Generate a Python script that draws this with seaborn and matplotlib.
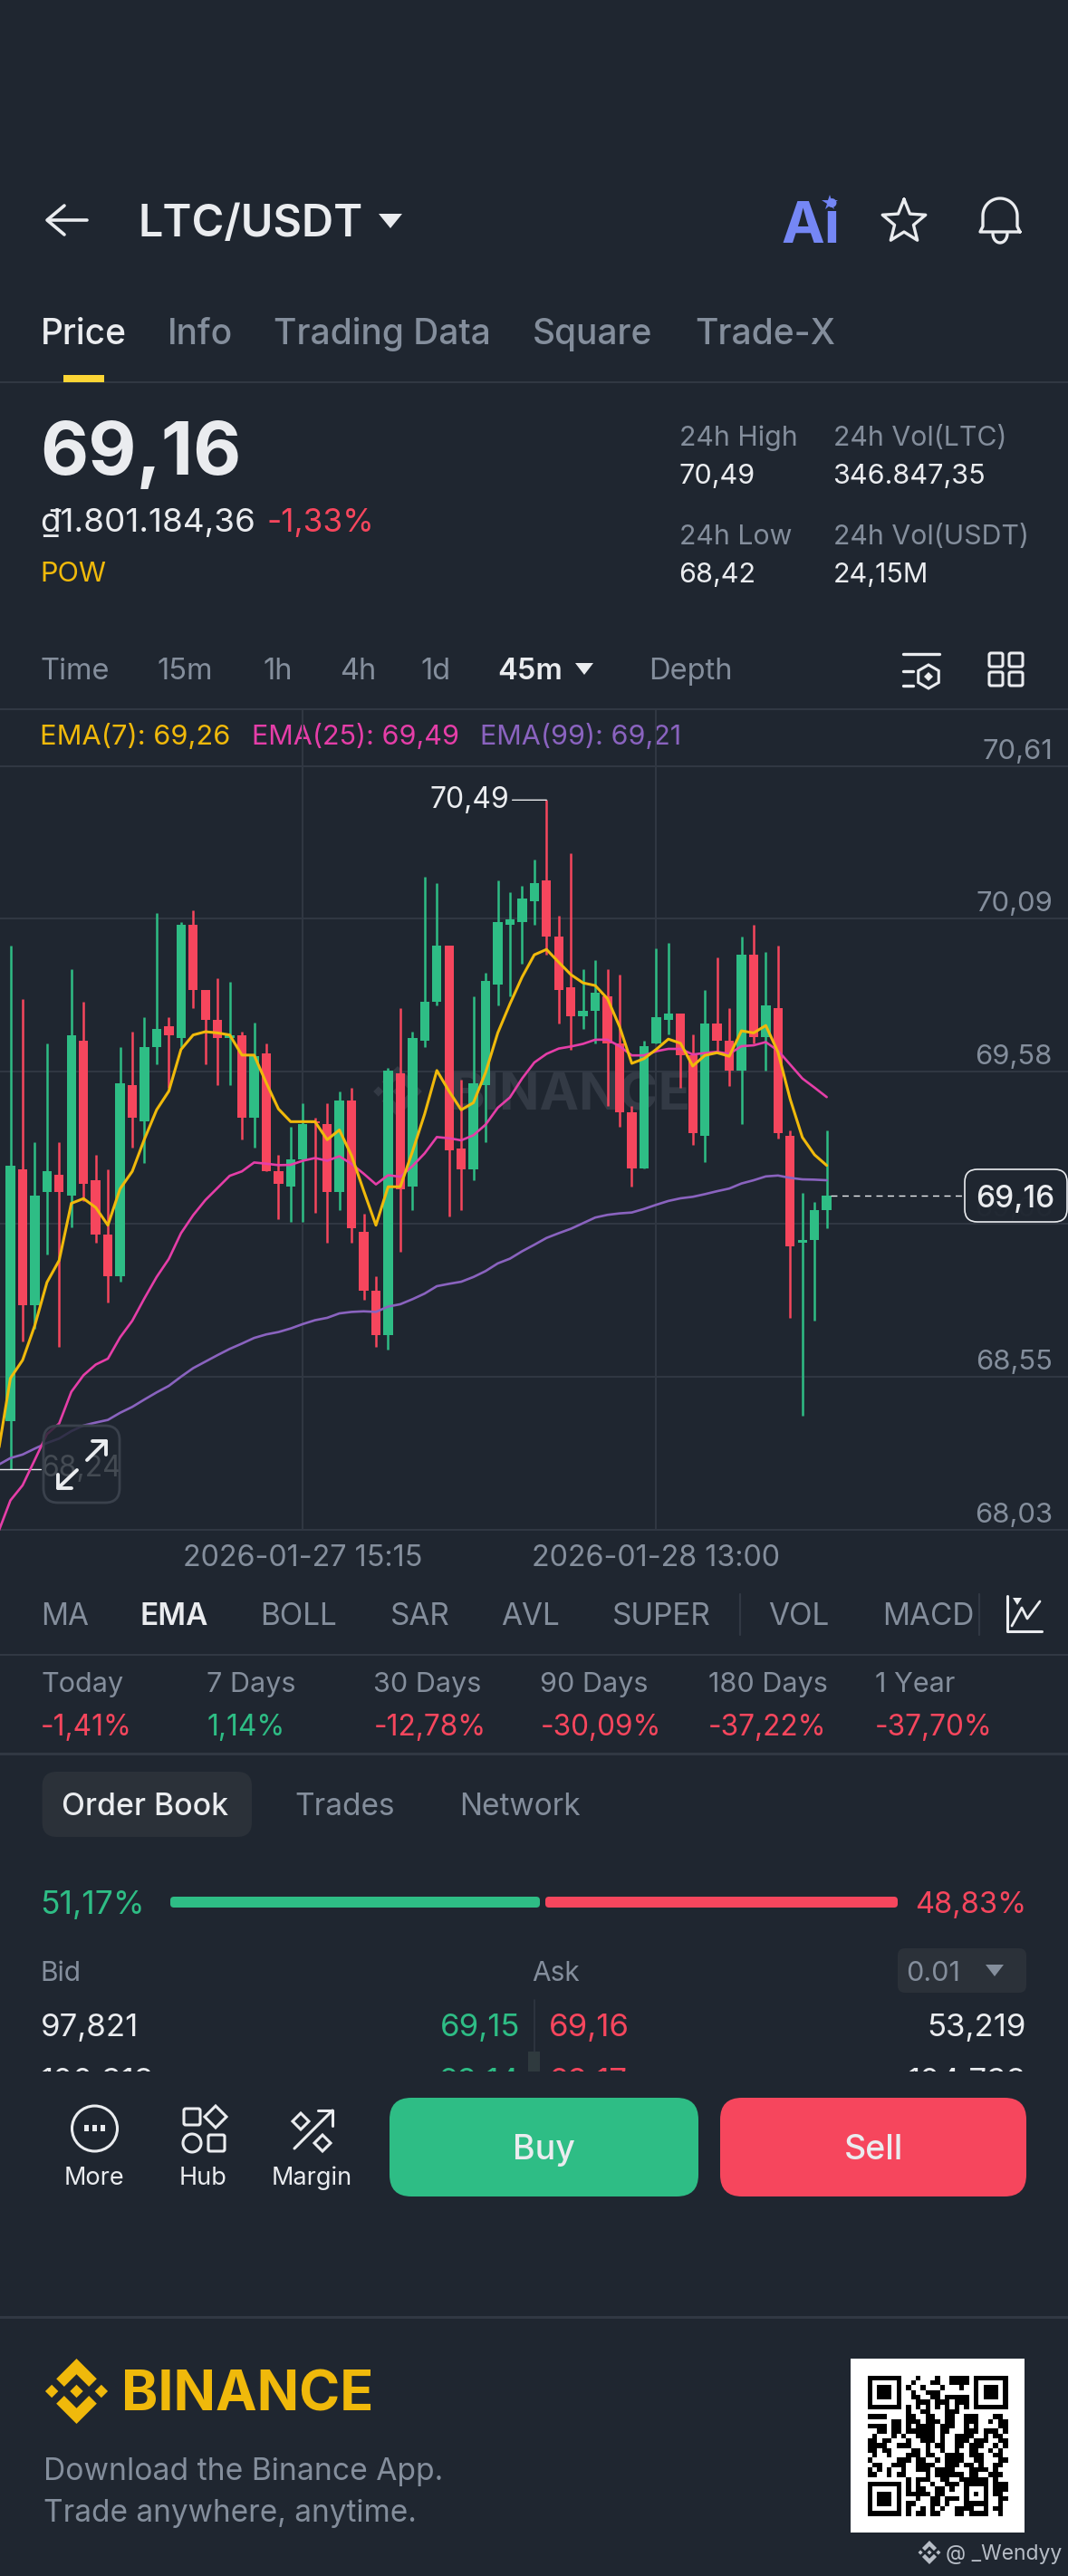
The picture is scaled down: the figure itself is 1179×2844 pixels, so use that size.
import matplotlib
matplotlib.use("Agg")
import matplotlib.pyplot as plt
import matplotlib.patches as mp
import numpy as np
import pandas as pd
import seaborn as sns

W, H = 1179, 2844
BG = "#1f2630"
GRID = "#313843"
GREEN = "#2ebd85"
RED = "#f6465d"
GRAY = "#848e9c"
WHITE = "#eaecef"
YELLOW = "#f0b90b"
PINK = "#e53ea8"
PURPLE = "#8a63bf"

# candles
opens = [68.395, 69.248, 68.787, 69.169, 69.228, 69.158, 69.681, 69.209, 69.027, 68.887,
         69.531, 69.410, 69.661, 69.730, 69.691, 70.073, 69.853, 69.751, 69.691, 69.701,
         69.420, 69.640, 69.240, 69.189, 69.279, 69.410, 69.400, 69.169, 69.480, 69.037,
         68.836, 68.686, 69.570, 69.189, 69.681, 69.812, 70.003, 69.318, 69.248, 69.531,
         69.872, 70.073, 70.083, 70.153, 70.224, 70.033, 69.863, 69.763, 69.782, 69.832,
         69.671, 69.440, 69.249, 69.671, 69.752, 69.772, 69.632, 69.360, 69.741, 69.682,
         69.580, 69.972, 69.693, 69.791, 69.360, 69.000, 69.007, 69.109]
closes = [69.258, 68.787, 69.158, 69.240, 69.169, 69.701, 69.198, 69.027, 68.887, 69.539,
          69.420, 69.660, 69.720, 69.701, 70.073, 69.853, 69.751, 69.691, 69.701, 69.420,
          69.630, 69.240, 69.199, 69.279, 69.400, 69.404, 69.169, 69.480, 69.049, 68.836,
          68.686, 69.581, 69.181, 69.691, 69.812, 70.003, 69.310, 69.248, 69.539, 69.883,
          70.083, 70.093, 70.163, 70.214, 70.035, 69.854, 69.763, 69.782, 69.843, 69.671,
          69.440, 69.249, 69.662, 69.762, 69.772, 69.632, 69.370, 69.741, 69.682, 69.580,
          69.972, 69.693, 69.802, 69.370, 68.988, 69.007, 69.109, 69.159]
highs = [70.003, 69.823, 69.338, 69.671, 69.338, 69.923, 69.812, 69.297, 69.248, 69.660,
         69.711, 69.761, 70.112, 69.761, 70.083, 70.122, 69.853, 69.892, 69.882, 69.711,
         69.742, 69.671, 69.297, 69.390, 69.470, 69.420, 69.470, 69.510, 69.521, 69.098,
         68.887, 69.591, 69.792, 69.711, 70.235, 70.214, 70.003, 69.550, 69.831, 69.912,
         70.224, 70.184, 70.204, 70.294, 70.495, 70.104, 70.314, 69.924, 69.954, 69.924,
         69.904, 69.460, 69.682, 69.994, 70.013, 69.772, 69.702, 69.854, 69.963, 69.793,
         70.033, 70.074, 69.983, 70.004, 69.379, 69.168, 69.138, 69.380]
lows = [68.235, 68.665, 68.707, 68.959, 68.647, 69.050, 69.139, 68.998, 68.797, 68.867,
        69.320, 69.269, 69.602, 69.521, 69.661, 69.792, 69.602, 69.531, 69.531, 69.349,
        69.320, 69.240, 69.078, 69.068, 69.068, 69.099, 68.998, 69.109, 68.998, 68.807,
        68.647, 68.637, 68.968, 69.109, 69.661, 69.802, 69.089, 69.109, 69.209, 69.339,
        69.802, 69.831, 69.942, 70.073, 69.972, 69.741, 69.652, 69.722, 69.671, 69.460,
        69.390, 69.188, 69.249, 69.671, 69.702, 69.521, 69.331, 69.270, 69.643, 69.530,
        69.401, 69.671, 69.580, 69.351, 68.746, 68.415, 68.737, 69.048]

# one candle more on the left is off screen, the lines still come in from it
ema7 = [68.29, 68.541, 68.602, 68.719, 68.865, 68.939, 69.132, 69.148, 69.118, 69.058, 69.181,
        69.240, 69.349, 69.448, 69.511, 69.652, 69.701, 69.712, 69.708, 69.701, 69.633,
        69.633, 69.539, 69.451, 69.408, 69.408, 69.408, 69.347, 69.380, 69.293, 69.174,
        69.058, 69.188, 69.188, 69.307, 69.434, 69.581, 69.511, 69.448, 69.472, 69.574,
        69.708, 69.806, 69.897, 69.972, 69.990, 69.947, 69.905, 69.877, 69.868, 69.824,
        69.729, 69.605, 69.621, 69.652, 69.687, 69.673, 69.596, 69.632, 69.641, 69.629,
        69.715, 69.708, 69.733, 69.643, 69.484, 69.355, 69.296, 69.260]
ema25 = [68.02, 68.128, 68.179, 68.265, 68.352, 68.388, 68.495, 68.551, 68.587, 68.607, 68.679,
         68.735, 68.811, 68.883, 68.944, 69.031, 69.092, 69.143, 69.184, 69.225, 69.240,
         69.270, 69.266, 69.261, 69.262, 69.276, 69.285, 69.276, 69.291, 69.265, 69.232,
         69.196, 69.227, 69.222, 69.258, 69.301, 69.356, 69.352, 69.345, 69.362, 69.398,
         69.455, 69.490, 69.554, 69.608, 69.637, 69.655, 69.662, 69.671, 69.685, 69.685,
         69.663, 69.632, 69.632, 69.646, 69.654, 69.654, 69.635, 69.640, 69.644, 69.637,
         69.663, 69.666, 69.677, 69.648, 69.601, 69.554, 69.523, 69.491]
ema99 = [68.248, 68.271, 68.283, 68.303, 68.322, 68.337, 68.362, 68.381, 68.391, 68.400, 68.424,
         68.444, 68.469, 68.493, 68.515, 68.546, 68.575, 68.597, 68.619, 68.640, 68.658,
         68.677, 68.689, 68.697, 68.709, 68.724, 68.737, 68.745, 68.760, 68.765, 68.767,
         68.765, 68.783, 68.791, 68.808, 68.827, 68.852, 68.860, 68.867, 68.883, 68.903,
         68.929, 68.945, 68.970, 68.992, 69.015, 69.031, 69.046, 69.065, 69.084, 69.093,
         69.098, 69.101, 69.113, 69.127, 69.140, 69.149, 69.154, 69.163, 69.173, 69.182,
         69.199, 69.210, 69.223, 69.226, 69.218, 69.213, 69.212, 69.210]

grid_prices = [70.61, 70.094, 69.578, 69.062, 68.546, 68.03]
price_labels = ["70,61", "70,09", "69,58", "69,06", "68,55", "68,03"]
date_ticks = [24, 53]
date_labels = ["2026-01-27 15:15", "2026-01-28 13:00"]

qr_rows = [
    "1111111 000 1 000 1 00 1111 0 1111111",
    "1000001 00 1 000 11 00 1111 0 1000001",
    "1011101 0 1 00 1 000 1 000 1 00 1011101",
    "1011101 00 1 00 111 0000000 1011101",
    "1011101 00 11 00 11 0 11111 0 1011101",
    "1000001 000 111 0 111 0 111 0 1000001",
    "1111111 0 1 0 1 0 1 0 1 0 1 0 1 0 1 0 1111111",
    "00000000 1 00 11 000 111 00 0 0000000",
    "1111 0000 11 00 11 00 11 00 111 000 11 0",
    "00000 11 0 111 0 111 0 11 00 111 00 1 0 11",
    "1111 0 11 0 1 0 1111 0 111 00 1 0 1 0000 11",
    "00 11 0 11 0 111111 0 11 000 111 0 111 0 1",
    "0 1 000 1 0 1 00 1111 0 1 00 1111 00 1 0 11 0",
    "11 0 11 0 0 0 1 0 0 111 0 1 00 111 0 111 00 11",
    "1111 00 111 000 1 0 11 00 11 0 111 00 1 0 1",
    "11 0 11 0000 11 0 1 00 1 00 1 00 11 00 1 0 1 0",
    "0 1 00 1 000 11 1 0 11 00 1111 0 111 00 11 0",
    "1 0 000 0 11 1 0 11 00 1 0 1111 00 11 000 11",
    "0 11 00 111 00 1111 00 111 0 11 0 1 00 11 0",
    "1 0 1 0 1 00 1 00 111 0 1111 000 1111 0 1 00",
    "11 00 1 0 11 000 0 1 0 111111 0 11 00 111 0",
    "00000000 1 0 111 00 11 00 1 11111 0 1 00",
    "1111111 0 1 0 1 00 1 00 111 0 11111 0 111",
    "1000001 0 1 0 11 00 11 0 1 00 1 000 1 0 11 1",
    "1011101 0 1 1 111 0 11 000 0 1 0 1 0 1 0 1 1 0",
    "1011101 0 00 1 00 11 0 111 0 1 000 1 00 11",
    "1011101 0 11 000 11 0 1 000 11111 00 1 0",
    "1000001 0 1 00 1 0 1 0 1 00 1111 00 1 0 11 0",
    "1111111 0 1 0 11 0 11 000 11 0 1111 00 1 0",
]

sns.set_theme(style="dark", rc={"figure.facecolor": BG, "axes.facecolor": BG, "savefig.facecolor": BG})
plt.rcParams["font.family"] = ["Inter", "DejaVu Sans"]

fig = plt.figure(figsize=(W / 100, H / 100), dpi=100)


def px_axes(zorder):
    a = fig.add_axes([0, 0, 1, 1], zorder=zorder)
    a.set_xlim(0, W)
    a.set_ylim(H, 0)
    a.axis("off")
    a.patch.set_alpha(0)
    return a


ax = px_axes(0)
top = px_axes(3)


def txt(x, y, s, size, color=GRAY, ha="left", weight="normal", a=None, **kw):
    # y is the middle of the capitals
    if ha == "left":
        x -= 1.5
    (a or ax).text(x, y + 0.36 * size / 0.72, s, fontsize=size, color=color, ha=ha, va="baseline",
                   fontweight=weight, **kw)


def rrect(x0, y0, x1, y1, r, fc, ec="none", lw=0, a=None, **kw):
    p = mp.FancyBboxPatch((x0 + r, y0 + r), x1 - x0 - 2 * r, y1 - y0 - 2 * r,
                          boxstyle=f"round,pad={r},rounding_size={r}", fc=fc, ec=ec, lw=lw, **kw)
    (a or ax).add_patch(p)


def line(xs, ys, color=WHITE, lw=2.4, a=None, **kw):
    (a or ax).plot(xs, ys, color=color, lw=lw, solid_capstyle="round", solid_joinstyle="round", **kw)


def hline(y, h=2, color=GRID):
    ax.add_patch(mp.Rectangle((0, y - h / 2), W, h, fc=color, ec="none"))


def tri(cx, y0, y1, hw, color=WHITE):
    ax.add_patch(mp.Polygon([(cx - hw, y0), (cx + hw, y0), (cx, y1)], fc=color, ec="none"))


def diamond(cx, cy, r, a=None, **kw):
    (a or ax).add_patch(mp.Polygon([(cx - r, cy), (cx, cy - r), (cx + r, cy), (cx, cy + r)], **kw))


def binance_logo(cx, cy, R, color, a=None, **kw):
    a = a or ax
    for dx in (-0.76, 0, 0.76):
        diamond(cx + dx * R, cy, 0.2 * R, a=a, fc=color, ec="none", **kw)
    for sy in (-1, 1):
        pts = [(0, 1), (0.62, 0.38), (0.38, 0.14), (0, 0.52), (-0.38, 0.14), (-0.62, 0.38)]
        a.add_patch(mp.Polygon([(cx + px * R, cy + sy * py * R) for px, py in pts], fc=color, ec="none", **kw))


# header
line([71, 52, 71], [227, 243, 259], lw=2.6)
line([53, 96], [243, 243], lw=2.6)
txt(154, 243, "LTC/USDT", 35, WHITE, weight="semibold")
tri(431, 236, 252, 13)
txt(864, 245, "Ai", 46, "#7587f5", weight="bold")
ax.plot([916], [224], marker="*", ms=13, color="#6d7ff0", mew=0)
ang = np.linspace(np.pi / 2, np.pi / 2 + 2 * np.pi, 11)
rad = np.array([25, 11] * 5 + [25])
line(998 + rad * np.cos(ang), 245 - rad * np.sin(ang), lw=2.4)
t = np.linspace(0, np.pi, 30)
line(np.r_[1126, 1123, 1104 + 19 * np.cos(t), 1085, 1082, 1126], np.r_[256, 250, 238 - 19 * np.sin(t), 250, 256, 256], lw=2.4)
t2 = np.linspace(0, np.pi, 15)
line(1104 + 8 * np.cos(t2), 258 + 10 * np.sin(t2), lw=2.4)

# tabs
for x, s, c in [(46, "Price", WHITE), (186, "Info", GRAY), (304, "Trading Data", GRAY), (589, "Square", GRAY),
                (769, "Trade-X", GRAY)]:
    txt(x, 366, s, 28, c, weight="medium")
hline(422)
ax.add_patch(mp.Rectangle((70, 414), 45, 8, fc="#fcd535", ec="none"))

# price block
txt(46, 495, "69,16", 59, WHITE, weight="bold")
txt(46, 574, "₫1.801.184,36", 26.5, WHITE)
txt(296, 574, "-1,33%", 25.3, RED)
txt(46, 631, "POW", 22, YELLOW)
for x, y, lab, val in [(751, 481, "24h High", "70,49"), (921, 481, "24h Vol(LTC)", "346.847,35"),
                       (751, 590, "24h Low", "68,42"), (921, 590, "24h Vol(USDT)", "24,15M")]:
    txt(x, y, lab, 21.8, GRAY)
    txt(x, y + 42, val, 22, WHITE)

# timeframes
for x, s, c, w in [(46, "Time", GRAY, "normal"), (175, "15m", GRAY, "normal"), (292, "1h", GRAY, "normal"),
                   (377, "4h", GRAY, "normal"), (466, "1d", GRAY, "normal"), (551, "45m", WHITE, "semibold"),
                   (718, "Depth", GRAY, "normal")]:
    txt(x, 738, s, 23.5, c, weight=w)
tri(645, 732, 745, 10)
line([997, 1037], [722, 722], lw=2.4)
line([997, 1008], [741, 741], lw=2.4)
line([997, 1008], [757, 757], lw=2.4)
ax.add_patch(mp.RegularPolygon((1025, 747), 6, radius=13, fc="none", ec=WHITE, lw=2.2))
diamond(1025, 747, 5, fc=WHITE, ec="none")
for gx in (1092, 1114):
    for gy in (721, 742):
        rrect(gx, gy, gx + 15, gy + 15, 2, "none", ec=WHITE, lw=2.2)
hline(783)

# legend
txt(46, 811, "EMA(7): 69,26", 22.2, YELLOW)
txt(279, 811, "EMA(25): 69,49", 22, PINK)
txt(531, 811, "EMA(99): 69,21", 22, PURPLE)

# watermark
binance_logo(439, 1205, 28, "#333a45")
txt(498, 1205, "BINANCE", 42, "#333a45", weight="bold")

# chart
df = pd.DataFrame({"open": opens, "close": closes, "high": highs, "low": lows})
df["idx"] = np.arange(len(df))
df["color"] = np.where(df["close"] >= df["open"], GREEN, RED)
lines = pd.DataFrame({"idx": np.arange(-1, len(df)), "ema7": ema7, "ema25": ema25, "ema99": ema99})

per_px = (70.61 - 68.03) / (1688.5 - 845.7)
cx = fig.add_axes([0, 1 - 1690 / H, 1, (1690 - 783) / H], zorder=1)
cx.patch.set_alpha(0)
cx.set_xlim(-11.5 / 13.45, (W - 11.5) / 13.45)
cx.set_ylim(68.03 - 1.5 * per_px, 70.61 + (845.7 - 783) * per_px)
sns.despine(ax=cx, left=True, bottom=True, top=True, right=True)
cx.set_yticks(grid_prices, [""] * len(grid_prices))
cx.set_xticks(date_ticks, date_labels)
cx.tick_params(axis="x", length=0, pad=11, labelsize=23.3, labelcolor=GRAY)
cx.tick_params(axis="y", length=0)
cx.grid(True, color=GRID, lw=1.4)
cx.set_axisbelow(True)

cx.vlines(df["idx"], df["low"], df["high"], colors=df["color"], lw=1.8, zorder=2)
cx.bar(df["idx"], (df["close"] - df["open"]).abs(), bottom=df[["open", "close"]].min(axis=1), width=0.77,
       color=df["color"], linewidth=0, zorder=2)
sns.lineplot(data=lines, x="idx", y="ema99", color=PURPLE, lw=1.9, ax=cx, zorder=3)
sns.lineplot(data=lines, x="idx", y="ema25", color=PINK, lw=1.9, ax=cx, zorder=3)
sns.lineplot(data=lines, x="idx", y="ema7", color=YELLOW, lw=2.2, ax=cx, zorder=3)
cx.set_xlabel("")
cx.set_ylabel("")

for p, lab in zip(grid_prices, price_labels):
    c = GRAY if lab != "69,06" else "#3a414c"
    cx.annotate(lab, (1162 / W, p), xycoords=("axes fraction", "data"), xytext=(0, 16 * 0.72),
                textcoords="offset points", ha="right", va="center", fontsize=22.3, color=c)

hi_i = df["high"].idxmax()
cx.annotate("70,49", (hi_i, df["high"][hi_i]), xytext=(-41 * 0.72, 0), textcoords="offset points", ha="right",
            va="center", fontsize=23, color=WHITE, arrowprops=dict(arrowstyle="-", color=WHITE, lw=1, shrinkA=0, shrinkB=0))
cx.annotate("68,24", (0, df["low"][0]), xytext=(34 * 0.72, 0), textcoords="offset points", ha="left",
            va="center", fontsize=23, color=WHITE, annotation_clip=False)
cx.plot([-0.9, 2.5], [df["low"][0], df["low"][0]], color=WHITE, lw=1)

# last price tag
last_px = 845.7 + (70.61 - closes[-1]) / per_px
top.plot([917, 1065], [last_px, last_px], color=WHITE, lw=1, dashes=(5, 4))
rrect(1065, 1291, 1178, 1349, 14, BG + "e0", ec=WHITE, lw=1.2, a=top)
txt(1121, 1321, "69,16", 24, WHITE, ha="center", a=top, weight="medium")

# expand button
rrect(48, 1574, 132, 1659, 16, BG + "d0", ec="#3a414c", lw=2, a=top)
line([96, 117], [1612, 1591], lw=2.8, a=top)
line([102, 117, 117], [1591, 1591, 1606], lw=2.8, a=top)
line([85, 64], [1623, 1643], lw=2.8, a=top)
line([64, 64, 79], [1628, 1643, 1643], lw=2.8, a=top)

# indicators
for x, s, c, w in [(46.6, "MA", GRAY, "normal"), (155.6, "EMA", WHITE, "semibold"), (289, "BOLL", GRAY, "normal"),
                   (432, "SAR", GRAY, "normal"), (555, "AVL", GRAY, "normal"), (677, "SUPER", GRAY, "normal"),
                   (850, "VOL", GRAY, "normal"), (976, "MACD", GRAY, "normal")]:
    txt(x, 1782, s, 24, c, weight=w)
for x in (817, 1081):
    line([x, x], [1760, 1805], color=GRID, lw=1.6)
line([1112, 1112, 1150], [1762, 1801, 1801], lw=2.2)
line([1117, 1128, 1134, 1148], [1795, 1775, 1787, 1768], lw=2)
tri(1123, 1764, 1772, 5)
hline(1827)

periods = ["Today", "7 Days", "30 Days", "90 Days", "180 Days", "1 Year"]
period_vals = ["-1,41%", "1,14%", "-12,78%", "-30,09%", "-37,22%", "-37,70%"]
for x, s, v in zip([46.6, 230, 414, 598, 783, 967], periods, period_vals):
    txt(x, 1857, s, 22, GRAY)
    txt(x, 1905, v, 22.7, GREEN if not v.startswith("-") else RED)
hline(1936, 3)

# order book
rrect(46.6, 1956, 278, 2028, 16, "#2b3139")
txt(69, 1992, "Order Book", 24.3, WHITE, weight="medium")
txt(327, 1992, "Trades", 24, GRAY)
txt(509, 1992, "Network", 24, GRAY)
txt(46, 2100, "51,17%", 25.5, GREEN)
txt(1133, 2100, "48,83%", 23.5, RED, ha="right")
rrect(188, 2094, 596, 2106, 4, GREEN)
rrect(602, 2094, 991, 2106, 4, RED)
txt(46, 2176, "Bid", 21.5, GRAY)
txt(589, 2176, "Ask", 21.5, GRAY)
rrect(991, 2151, 1133, 2200, 8, "#2b3139")
txt(1002, 2176, "0.01", 22, GRAY)
tri(1098, 2169, 2182, 10, GRAY)
txt(46, 2236, "97,821", 25, WHITE)
txt(574, 2236, "69,15", 25, GREEN, ha="right")
txt(607, 2236, "69,16", 25, RED)
txt(1133, 2236, "53,219", 25, WHITE, ha="right")
txt(46, 2296, "100,318", 25, WHITE)
txt(574, 2296, "69,14", 25, GREEN, ha="right")
txt(607, 2296, "69,17", 25, RED)
txt(1133, 2296, "104,738", 25, WHITE, ha="right")
line([590, 590], [2208, 2265], color="#2f3641", lw=1.2)
ax.add_patch(mp.Rectangle((583, 2265), 13, 22, fc="#2f3a3e", ec="none"))

# bottom bar
top.add_patch(mp.Rectangle((0, 2287), W, 268, fc=BG, ec="none"))
top.add_patch(mp.Circle((104.5, 2350), 25, fc="none", ec=WHITE, lw=2.2))
for dx in (-9, 0, 9):
    top.add_patch(mp.Rectangle((104.5 + dx - 2.5, 2346), 5, 7, fc=WHITE, ec="none"))
rrect(203, 2328, 221, 2346, 2, "none", ec=WHITE, lw=2.2, a=top)
diamond(238, 2337, 12, a=top, fc="none", ec=WHITE, lw=2.2)
top.add_patch(mp.Circle((212, 2366), 10, fc="none", ec=WHITE, lw=2.2))
rrect(230, 2357, 248, 2375, 2, "none", ec=WHITE, lw=2.2, a=top)
diamond(332, 2342, 9, a=top, fc="none", ec=WHITE, lw=2.2)
diamond(356, 2366, 9, a=top, fc="none", ec=WHITE, lw=2.2)
line([325, 367], [2372, 2330], lw=2.2, a=top)
line([351, 367, 367], [2330, 2330, 2347], lw=2.2, a=top)
for x, s in [(104, "More"), (224, "Hub"), (344, "Margin")]:
    txt(x, 2402, s, 19.5, WHITE, ha="center", a=top)
rrect(430, 2316, 771, 2425, 24, GREEN, a=top)
rrect(795, 2316, 1133, 2425, 24, RED, a=top)
txt(600, 2371, "Buy", 27, WHITE, ha="center", weight="medium", a=top)
txt(964, 2371, "Sell", 27, WHITE, ha="center", weight="medium", a=top)

# footer
hline(2558, 3)
binance_logo(84.5, 2640, 36, YELLOW)
txt(135, 2640, "BINANCE", 44, YELLOW, weight="bold")
txt(49, 2726, "Download the Binance App.", 24.2, GRAY)
txt(49, 2772, "Trade anywhere, anytime.", 24, GRAY)
ax.add_patch(mp.Rectangle((939, 2604), 192, 192, fc="white", ec="none"))
qr = np.array([[int(c) for c in r.replace(" ", "")] for r in qr_rows])
qx = fig.add_axes([957.5 / W, 1 - 2777.5 / H, 155 / W, 155 / H], zorder=2)
sns.heatmap(qr, cmap=["white", "black"], cbar=False, xticklabels=False, yticklabels=False, ax=qx, square=False)
binance_logo(1026, 2818, 13, "#b7bdc6")
txt(1046, 2818, "@ _Wendyy", 16.5, "#b7bdc6")

fig.savefig("out.png", dpi=100, facecolor=BG)
